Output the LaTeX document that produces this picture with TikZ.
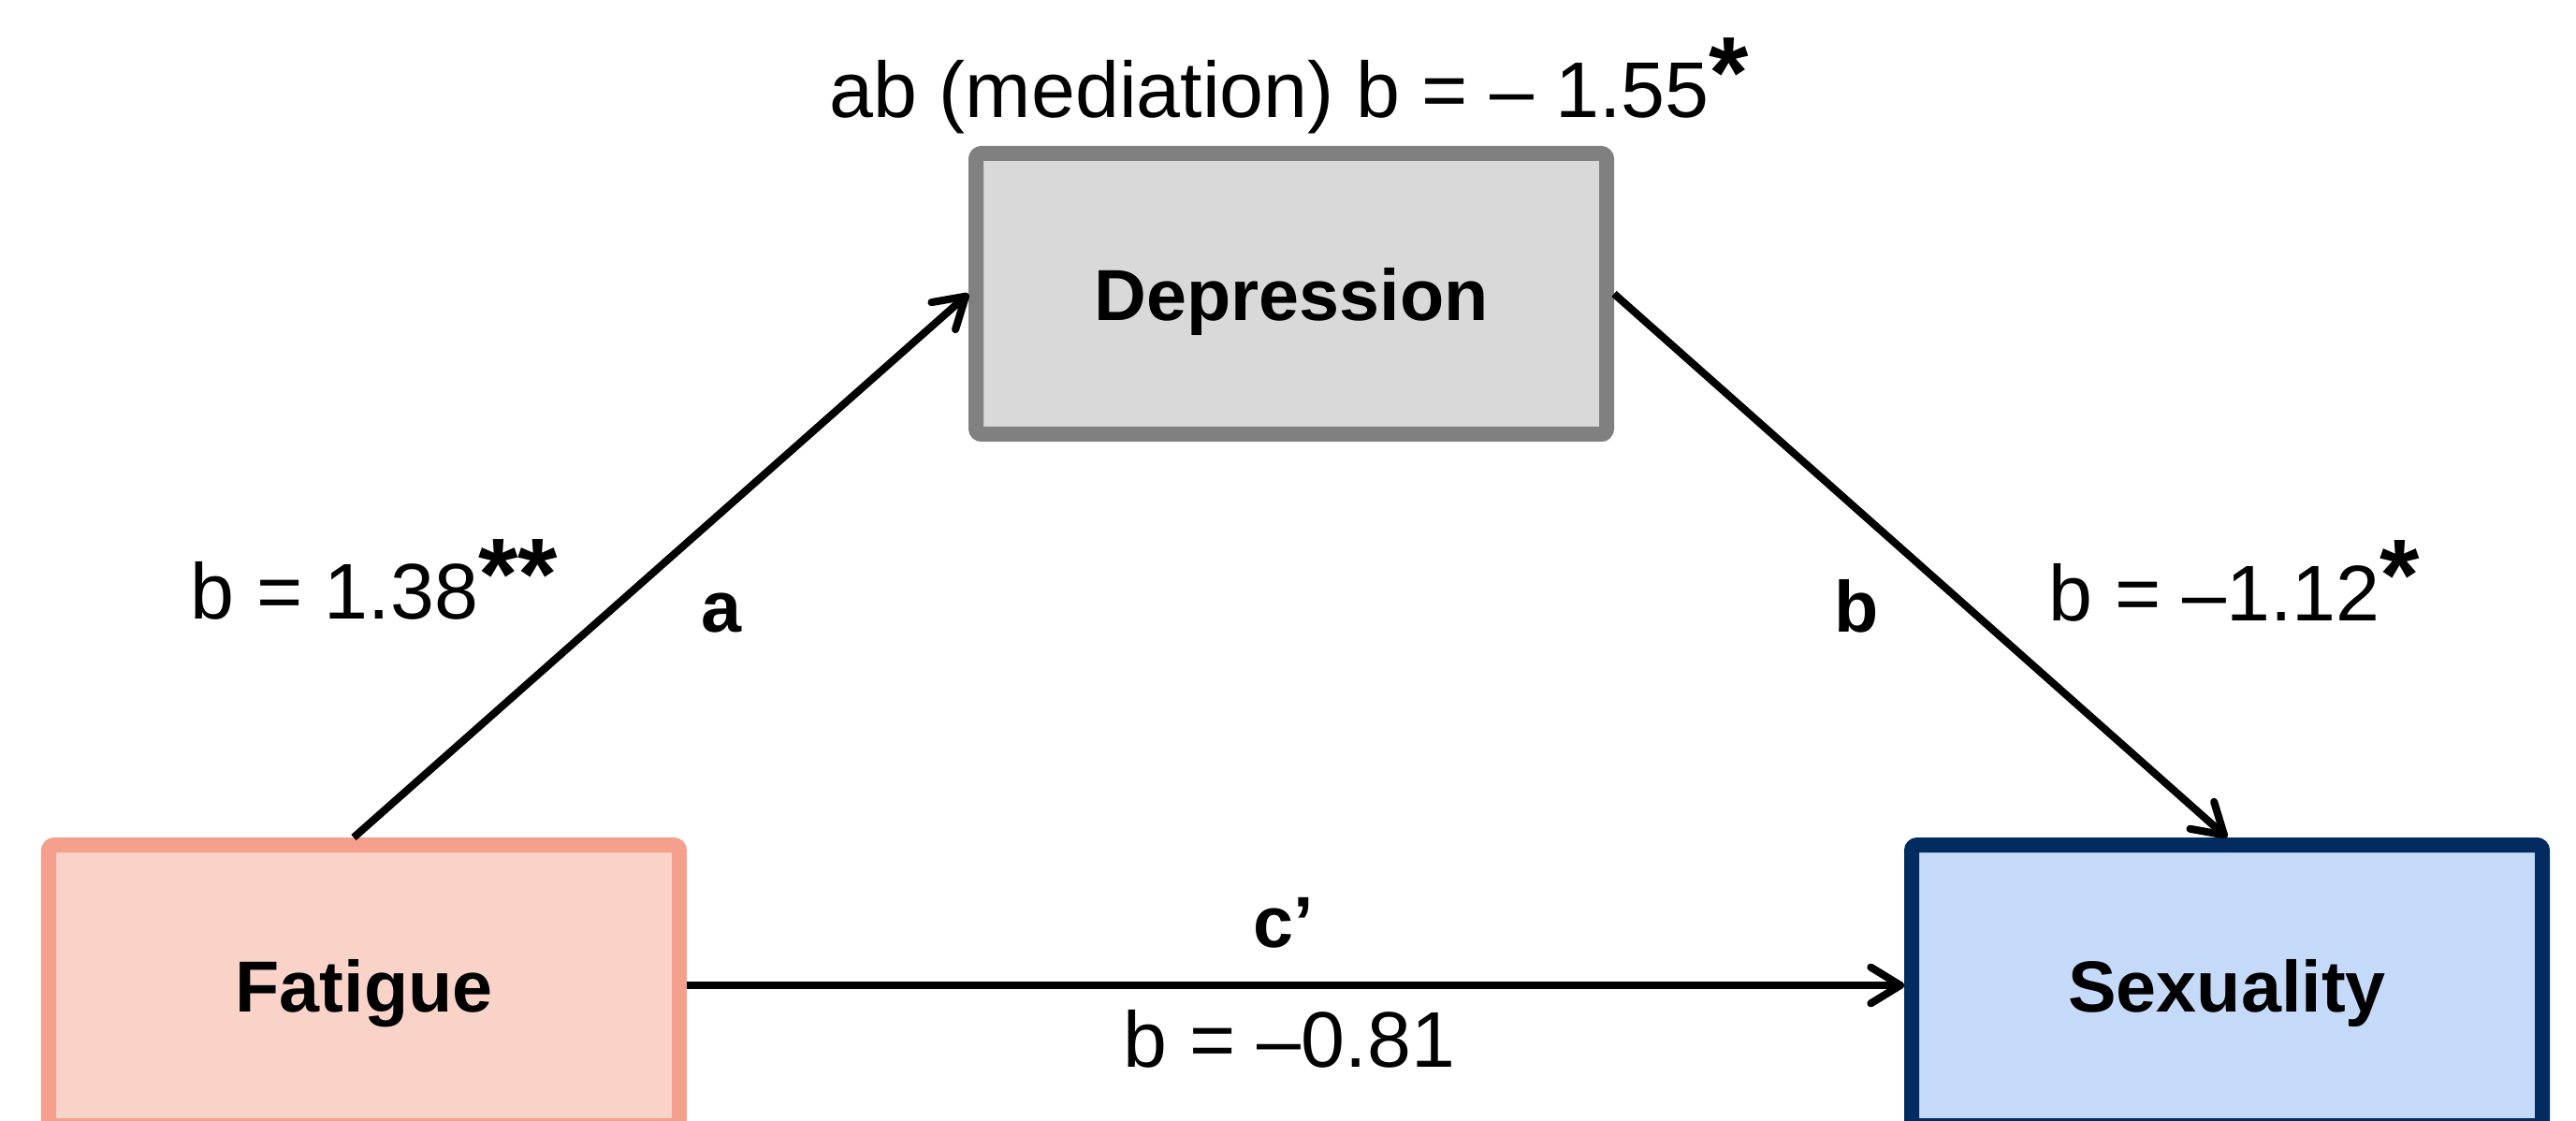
\documentclass[tikz,border=0pt]{standalone}
\usepackage{fontspec}
\setmainfont{Liberation Sans}
\usepackage{xcolor}
\usetikzlibrary{arrows.meta,shadows}

\definecolor{fatfill}{HTML}{F9D2C8}
\definecolor{fatline}{HTML}{F4A08C}
\definecolor{depfill}{HTML}{D9D9D9}
\definecolor{depline}{HTML}{808080}
\definecolor{sexfill}{HTML}{C5D9F8}
\definecolor{sexline}{HTML}{022C5F}

\newcommand{\sigstar}[1]{\raisebox{3pt}{\fontsize{31}{31}\selectfont\bfseries #1}}

\begin{document}
\begin{tikzpicture}[
  varbox/.style={rectangle,draw,line width=1.6mm,rounded corners=0.6mm,
    minimum width=6.74cm,minimum height=3.0cm,text depth=0pt,
    font=\fontsize{22}{26}\selectfont\bfseries,
    drop shadow={opacity=0.25,shadow xshift=0.4mm,shadow yshift=-0.8mm}},
  coef/.style={font=\fontsize{24}{28}\selectfont,anchor=base},
  pathlbl/.style={font=\fontsize{22}{26}\selectfont\bfseries,anchor=base},
  >={Straight Barb[length=9pt,width=11pt,round]}
]
\useasboundingbox (0,0) rectangle (27.53,11.97);
\clip (0,0) rectangle (27.53,11.97);

% Variables
\node[varbox,fill=depfill,draw=depline] (dep) at (13.80,8.83) {Depression};
\node[varbox,fill=fatfill,draw=fatline] (fat) at (3.89,1.44) {Fatigue};
\node[varbox,fill=sexfill,draw=sexline] (sex) at (23.80,1.44) {Sexuality};

% Paths
\draw[->,line width=2.3pt] ([xshift=-1.1mm]fat.north) -- (dep.west);
\draw[->,line width=2.3pt] (dep.east) -- (sex.north);
\draw[->,line width=2.3pt] (fat.east) -- (sex.west);

% Path labels and coefficients
\node[coef] (abcoef) at (13.78,10.71) {ab (mediation) b = – 1.55\sigstar{*}};
\node[coef] (acoef) at (4.00,5.35) {b = 1.38\sigstar{**}};
\node[pathlbl] (alab) at (7.71,5.22) {a};
\node[pathlbl] (blab) at (19.84,5.22) {b};
\node[coef] (bcoef) at (23.88,5.34) {b = –1.12\sigstar{*}};
\node[pathlbl] (clab) at (13.72,1.85) {c’};
\node[coef] (ccoef) at (13.78,0.57) {b = –0.81};
\end{tikzpicture}
\end{document}
